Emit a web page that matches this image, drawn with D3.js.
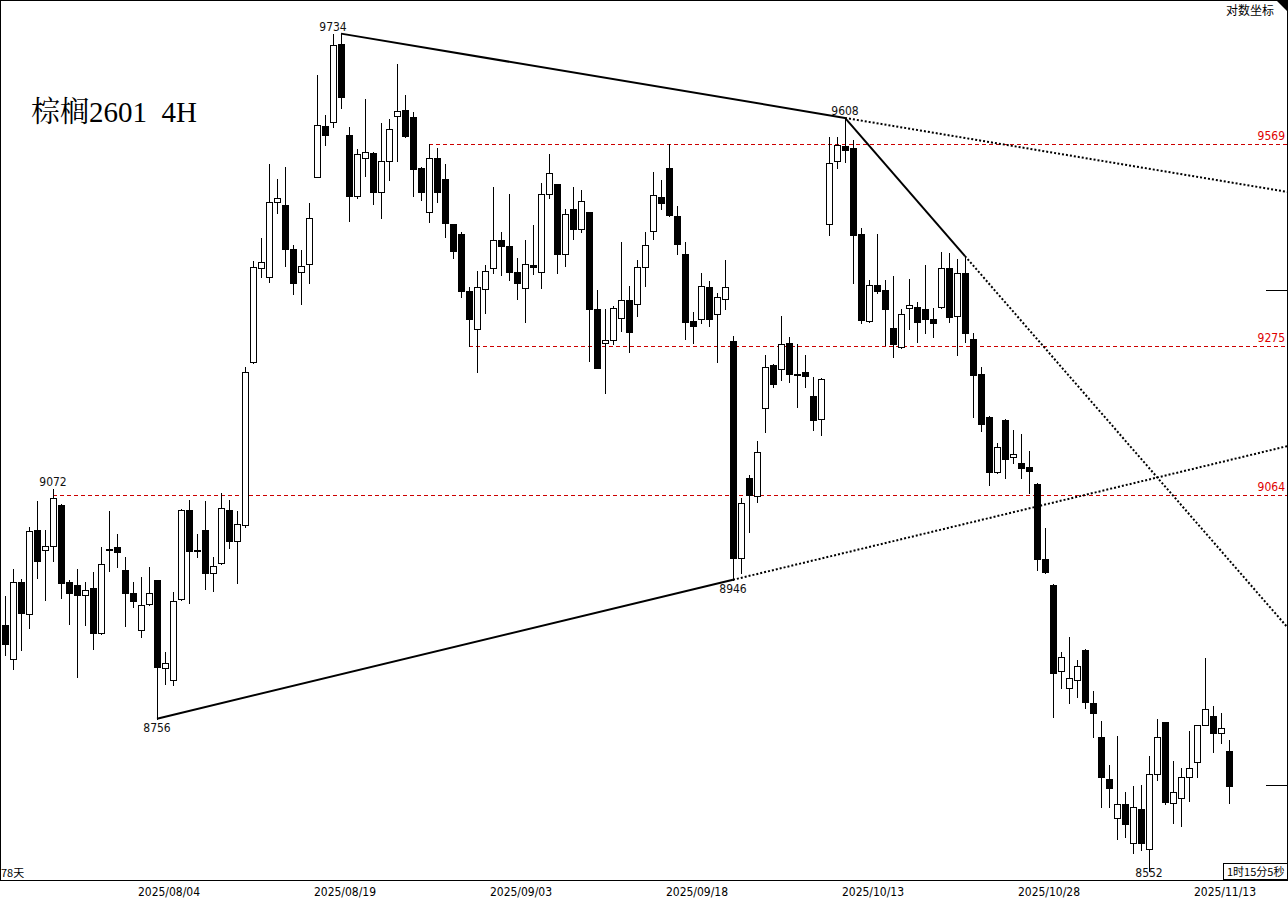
<!DOCTYPE html>
<html>
<head>
<meta charset="utf-8">
<script src="https://cdn.jsdelivr.net/npm/d3@7"></script>
<style>
  html, body { margin: 0; padding: 0; background: #fff; }
  svg { display: block; }
</style>
</head>
<body>
<div id="chart"></div>
<script>
// 棕榈2601 4H candlesticks on a log price axis, with trendlines and key price levels

// OHLC per 4H bar
var opens = [8884, 8837, 8943, 8899, 9015, 8987, 8993, 9050, 8943, 8939,
  8925, 8935, 8873, 8988, 8991, 8960, 8928, 8877, 8913, 8946,
  8825, 8809, 8919, 9043, 8987, 9015, 8956, 8969, 9043, 9000,
  9022, 9252, 9388, 9375, 9484, 9480, 9415, 9382, 9394, 9521,
  9596, 9602, 9718, 9583, 9493, 9549, 9556, 9499, 9544, 9611,
  9620, 9609, 9534, 9469, 9549, 9518, 9452, 9437, 9354, 9300,
  9357, 9388, 9428, 9420, 9382, 9359, 9392, 9382, 9496, 9510,
  9408, 9474, 9444, 9469, 9328, 9279, 9284, 9315, 9341, 9336,
  9389, 9441, 9491, 9534, 9463, 9408, 9311, 9314, 9360, 9321,
  9343, 9282, 8976, 9088, 9063, 9187, 9248, 9242, 9280, 9235,
  9238, 9204, 9171, 9452, 9544, 9567, 9563, 9437, 9311, 9363,
  9356, 9301, 9274, 9330, 9331, 9328, 9314, 9331, 9388, 9318,
  9380, 9285, 9235, 9174, 9096, 9170, 9117, 9109, 9103, 9080,
  8975, 8939, 8821, 8798, 8809, 8849, 8777, 8731, 8675, 8623,
  8641, 8589, 8635, 8581, 8681, 8752, 8643, 8649, 8677, 8698,
  8748, 8760, 8737, 8712];
var highs = [8924, 8961, 8947, 9019, 9056, 9015, 9072, 9052, 8946, 8961,
  8943, 8957, 8991, 9042, 9010, 8978, 8943, 8950, 8964, 8946,
  8847, 8929, 9045, 9057, 9010, 9056, 8978, 9067, 9057, 9042,
  9245, 9398, 9431, 9540, 9518, 9535, 9421, 9414, 9482, 9672,
  9612, 9734, 9733, 9594, 9562, 9636, 9557, 9600, 9606, 9688,
  9642, 9617, 9535, 9569, 9563, 9540, 9452, 9440, 9360, 9383,
  9392, 9506, 9440, 9496, 9402, 9428, 9450, 9512, 9554, 9511,
  9474, 9506, 9502, 9470, 9356, 9328, 9333, 9425, 9362, 9399,
  9440, 9528, 9516, 9569, 9478, 9425, 9324, 9380, 9369, 9351,
  9399, 9290, 9060, 9092, 9140, 9262, 9249, 9318, 9288, 9278,
  9262, 9231, 9229, 9580, 9580, 9608, 9575, 9446, 9370, 9437,
  9370, 9376, 9328, 9372, 9338, 9392, 9330, 9411, 9409, 9401,
  9405, 9294, 9245, 9175, 9137, 9171, 9156, 9150, 9126, 9081,
  9018, 8940, 8847, 8867, 8836, 8851, 8794, 8753, 8694, 8733,
  8657, 8665, 8667, 8706, 8755, 8752, 8699, 8690, 8739, 8748,
  8839, 8773, 8764, 8727];
var lows = [8843, 8824, 8849, 8880, 8949, 8918, 8972, 8921, 8885, 8813,
  8884, 8851, 8871, 8958, 8964, 8882, 8908, 8867, 8911, 8756,
  8803, 8802, 8918, 8914, 8978, 8933, 8931, 8968, 8990, 8942,
  9019, 9251, 9375, 9367, 9468, 9391, 9350, 9336, 9366, 9520,
  9568, 9594, 9623, 9456, 9490, 9522, 9481, 9460, 9516, 9544,
  9580, 9493, 9487, 9455, 9484, 9433, 9402, 9346, 9275, 9238,
  9323, 9380, 9378, 9370, 9343, 9310, 9379, 9359, 9490, 9380,
  9391, 9430, 9440, 9254, 9243, 9208, 9278, 9297, 9266, 9318,
  9362, 9430, 9474, 9464, 9408, 9285, 9280, 9308, 9304, 9252,
  9328, 8946, 8956, 9012, 9054, 9153, 9217, 9227, 9224, 9188,
  9217, 9156, 9148, 9436, 9534, 9543, 9366, 9308, 9310, 9351,
  9277, 9259, 9273, 9300, 9281, 9294, 9288, 9330, 9310, 9262,
  9281, 9174, 9154, 9078, 9095, 9088, 9109, 9088, 9067, 8960,
  8956, 8758, 8798, 8777, 8785, 8771, 8731, 8637, 8637, 8595,
  8597, 8576, 8580, 8552, 8673, 8641, 8616, 8612, 8645, 8677,
  8747, 8711, 8723, 8643];
var closes = [8858, 8943, 8900, 9014, 8972, 8993, 9060, 8942, 8928, 8925,
  8932, 8873, 8968, 8989, 8984, 8928, 8917, 8911, 8928, 8826,
  8832, 8917, 9043, 8986, 8986, 8956, 8965, 9046, 9000, 9024,
  9238, 9389, 9396, 9484, 9490, 9415, 9366, 9391, 9460, 9598,
  9583, 9717, 9639, 9493, 9554, 9557, 9499, 9544, 9592, 9618,
  9581, 9532, 9499, 9549, 9499, 9453, 9412, 9354, 9314, 9360,
  9383, 9428, 9420, 9382, 9366, 9394, 9389, 9496, 9527, 9408,
  9466, 9444, 9485, 9328, 9244, 9284, 9330, 9341, 9295, 9389,
  9421, 9494, 9482, 9465, 9423, 9310, 9304, 9362, 9314, 9346,
  9360, 8976, 9053, 9064, 9124, 9245, 9221, 9278, 9235, 9234,
  9232, 9170, 9228, 9541, 9568, 9560, 9436, 9313, 9363, 9354,
  9328, 9278, 9321, 9334, 9310, 9314, 9308, 9388, 9317, 9380,
  9294, 9234, 9164, 9096, 9132, 9115, 9122, 9102, 9098, 8975,
  8957, 8818, 8840, 8811, 8828, 8779, 8764, 8677, 8663, 8641,
  8615, 8637, 8589, 8681, 8731, 8644, 8657, 8677, 8690, 8748,
  8769, 8737, 8743, 8665];

// date labels: first bar of the labelled day
var dateLabels = ['2025/08/04', '2025/08/19', '2025/09/03', '2025/09/18', '2025/10/13', '2025/10/28', '2025/11/13'];
var dateBars = [20, 42, 64, 86, 108, 130, 152];

// horizontal levels (red dashed), starting bar of each
var levelPrices = [9569, 9275, 9064];
var levelStartBars = [53, 58, 6];

// trendlines: solid between two anchors, dotted beyond
var trendFromBars = [42, 105, 19];
var trendFromPrices = [9734, 9608, 8756];
var trendToBars = [105, 120, 91];
var trendToPrices = [9608, 9405, 8946];

// marked highs / lows
var markBars = [41, 105, 6, 19, 91, 143];
var markPrices = [9734, 9608, 9072, 8756, 8946, 8552];
var markSides = ['high', 'high', 'high', 'low', 'low', 'low'];

// short ticks on the right edge
var rightTickPrices = [9356, 8667];

var width = 1288;
var height = 898;
var plotRight = 1287;
var plotBottom = 880;
var uiFont = '"DejaVu Sans Condensed", "DejaVu Sans", sans-serif';
var cjkFont = '"Noto Sans CJK SC", sans-serif';
var lineRed = '#cc0000';
var textRed = '#e00000';

var svg = d3.select('#chart').append('svg')
      .attr('width', width)
      .attr('height', height)

var n = opens.length;
var xScale = d3.scaleLinear()
      .domain([0, n - 1])
      .range([5, 5 + 8 * (n - 1)]) // 8px per bar
var yScale = d3.scaleLog()
      .domain([8540.4, 9784.7])
      .range([plotBottom, 0])

var px = v => Math.round(v) + 0.5;

// frame
var frame = svg.append('g').attr('shape-rendering', 'crispEdges')
frame.append('line').attr('x1', 0.5).attr('x2', 0.5).attr('y1', 0).attr('y2', plotBottom).attr('stroke', '#000')
frame.append('line').attr('x1', 0).attr('x2', width).attr('y1', 0.5).attr('y2', 0.5).attr('stroke', '#000')
frame.append('line').attr('x1', plotRight + 0.5).attr('x2', plotRight + 0.5).attr('y1', 0).attr('y2', plotBottom).attr('stroke', '#000')
frame.append('line').attr('x1', 0).attr('x2', width).attr('y1', plotBottom + 0.5).attr('y2', plotBottom + 0.5).attr('stroke', '#000')
svg.append('path')
      .attr('d', 'M1276,0 L1288,0 L1288,12 Z')
      .attr('fill', '#000')

frame.selectAll('.rtick')
      .data(rightTickPrices)
      .enter()
      .append('line')
      .attr('x1', 1266).attr('x2', plotRight)
      .attr('y1', d => px(yScale(d))).attr('y2', d => px(yScale(d)))
      .attr('stroke', '#000')

// red dashed levels
var levels = svg.append('g')
levels.selectAll('line')
      .data(levelPrices)
      .enter()
      .append('line')
      .attr('x1', (d, k) => xScale(levelStartBars[k]))
      .attr('x2', plotRight)
      .attr('y1', d => px(yScale(d)))
      .attr('y2', d => px(yScale(d)))
      .attr('stroke', lineRed)
      .attr('stroke-dasharray', '4,3')
      .attr('shape-rendering', 'crispEdges')
levels.selectAll('text')
      .data(levelPrices)
      .enter()
      .append('text')
      .attr('x', 1285)
      .attr('y', d => Math.round(yScale(d)) - 4)
      .attr('text-anchor', 'end')
      .style('font-family', uiFont)
      .style('font-size', '12px')
      .style('fill', textRed)
      .text(d => d)

// candles
var candles = opens.map((o, i) => ({ i: i, o: o, h: highs[i], l: lows[i], c: closes[i] }));
var cg = svg.append('g').attr('shape-rendering', 'crispEdges')
cg.selectAll('line')
      .data(candles)
      .enter()
      .append('line')
      .attr('x1', d => px(xScale(d.i)))
      .attr('x2', d => px(xScale(d.i)))
      .attr('y1', d => Math.round(yScale(d.h)))
      .attr('y2', d => Math.round(yScale(d.l)) + 1)
      .attr('stroke', '#000')
cg.selectAll('rect')
      .data(candles)
      .enter()
      .append('rect')
      .attr('x', d => Math.round(xScale(d.i)) - 2.5)
      .attr('y', d => Math.round(yScale(Math.max(d.o, d.c))) + 0.5)
      .attr('width', 6)
      .attr('height', d => Math.max(1, Math.round(yScale(Math.min(d.o, d.c))) - Math.round(yScale(Math.max(d.o, d.c)))))
      .attr('fill', d => d.c < d.o ? '#000' : '#fff')
      .attr('stroke', '#000')

// trendlines
var tg = svg.append('g')
trendFromBars.forEach(function (b, k) {
      var x1 = xScale(b), y1 = yScale(trendFromPrices[k]);
      var x2 = xScale(trendToBars[k]), y2 = yScale(trendToPrices[k]);
      var slope = (y2 - y1) / (x2 - x1);
      tg.append('line')
            .attr('x1', x1).attr('y1', y1).attr('x2', x2).attr('y2', y2)
            .attr('stroke', '#000').attr('stroke-width', 2)
      tg.append('line')
            .attr('x1', x2).attr('y1', y2)
            .attr('x2', width).attr('y2', y2 + (width - x2) * slope)
            .attr('stroke', '#000').attr('stroke-width', 2)
            .attr('stroke-dasharray', '2,2')
})

// labels at marked highs and lows
svg.append('g').selectAll('text')
      .data(markPrices)
      .enter()
      .append('text')
      .attr('x', (d, k) => xScale(markBars[k]))
      .attr('y', (d, k) => markSides[k] == 'high' ? yScale(d) - 3 : Math.min(yScale(d) + 13, 877))
      .attr('text-anchor', 'middle')
      .style('font-family', uiFont)
      .style('font-size', '12px')
      .style('fill', '#111')
      .text(d => d)

// title
svg.append('text')
      .attr('x', 31)
      .attr('y', 122)
      .attr('xml:space', 'preserve')
      .style('white-space', 'pre')
      .style('font-family', '"Liberation Serif", "Noto Serif CJK SC", "Noto Sans CJK SC", serif')
      .style('font-size', '29px')
      .style('fill', '#000')
      .text('棕榈2601  4H')

svg.append('text')
      .attr('x', 1274)
      .attr('y', 15)
      .attr('text-anchor', 'end')
      .style('font-family', cjkFont)
      .style('font-size', '12px')
      .text('对数坐标')

svg.append('text')
      .attr('x', 1)
      .attr('y', 877)
      .style('font-family', cjkFont)
      .style('font-size', '11px')
      .text('78天')

// countdown box bottom right
svg.append('rect')
      .attr('x', 1223.5).attr('y', 863.5)
      .attr('width', 64).attr('height', 16)
      .attr('fill', '#fff').attr('stroke', '#000')
      .attr('shape-rendering', 'crispEdges')
svg.append('text')
      .attr('x', 1227)
      .attr('y', 876)
      .style('font-family', cjkFont)
      .style('font-size', '11px')
      .text('1时15分5秒')

// x axis date labels, centred on the day's two bars
svg.append('g').selectAll('text')
      .data(dateLabels)
      .enter()
      .append('text')
      .attr('x', (d, k) => (xScale(dateBars[k]) + xScale(dateBars[k] + 1)) / 2)
      .attr('y', 896)
      .attr('text-anchor', 'middle')
      .style('font-family', uiFont)
      .style('font-size', '12px')
      .style('fill', '#000')
      .text(d => d)
</script>
</body>
</html>
